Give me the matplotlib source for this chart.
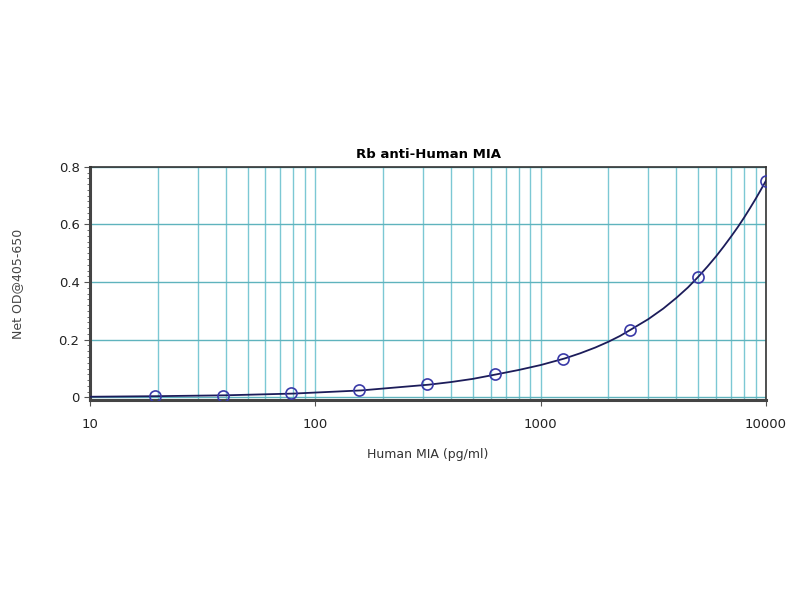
import numpy as np
import matplotlib.pyplot as plt
from matplotlib.ticker import LogLocator, FixedLocator, NullFormatter

# standard points (pg/ml) and net OD
conc = [19.5, 39, 78, 156, 312.5, 625, 1250, 2500, 5000, 10000]
od = [0.004, 0.005, 0.014, 0.024, 0.045, 0.080, 0.134, 0.234, 0.417, 0.752]

# fitted curve, points
curve_x = [10, 20, 40, 80, 160, 320, 400, 500, 640, 800, 1000, 1280, 1500,
           1750, 2000, 2250, 2500, 3000, 3500, 4000, 4500, 5000, 5500, 6000,
           6500, 7000, 7500, 8000, 8500, 9000, 9500, 10000]
curve_y = [0.002, 0.004, 0.007, 0.013, 0.024, 0.044, 0.053, 0.064, 0.080,
           0.095, 0.112, 0.135, 0.153, 0.173, 0.193, 0.213, 0.234, 0.271,
           0.308, 0.345, 0.381, 0.418, 0.454, 0.489, 0.524, 0.558, 0.591,
           0.624, 0.657, 0.689, 0.721, 0.752]

yticks = [0, 0.2, 0.4, 0.6, 0.8]
ytick_labels = ['0', '0.2', '0.4', '0.6', '0.8']

fig = plt.figure(figsize=(8, 6), dpi=100)
ax = fig.add_axes([0.1125, 0.333, 0.845, 0.389])

grid_col = '#7cc8d4'
ax.set_xscale('log')
ax.set_xlim(10, 10000)
ax.set_ylim(-0.01, 0.8)

ax.xaxis.set_major_locator(LogLocator(base=10))
ax.xaxis.set_minor_locator(LogLocator(base=10, subs=np.arange(2, 10)))
ax.xaxis.set_minor_formatter(NullFormatter())
ax.set_xticks([10, 100, 1000, 10000])
ax.set_xticklabels(['10', '100', '1000', '10000'])
ax.set_yticks(yticks)
ax.set_yticklabels(ytick_labels)
ax.yaxis.set_minor_locator(FixedLocator(np.arange(0, 0.81, 0.02)))

ax.grid(True, which='both', axis='x', color=grid_col, lw=1)
ax.grid(True, which='major', axis='y', color='#5fb3bd', lw=1)
ax.set_axisbelow(True)

ax.plot(curve_x, curve_y, color='#1c1c5a', lw=1.3, zorder=3)
ax.plot(conc, od, 'o', ms=8, mfc='none', mec='#3a3aa8', mew=1.2, zorder=4)

for side in ['top', 'right']:
    ax.spines[side].set_linewidth(1.2)
    ax.spines[side].set_color('#333333')
for side in ['left', 'bottom']:
    ax.spines[side].set_linewidth(2.2)
    ax.spines[side].set_color('#444444')

ax.tick_params(axis='both', which='major', labelsize=9.5, labelcolor='#222222',
               length=4, color='#555555')
ax.tick_params(axis='x', which='major', pad=9)
ax.tick_params(axis='x', which='minor', length=0)
ax.tick_params(axis='y', which='minor', length=2, color='#555555')

ax.set_title('Rb anti-Human MIA', fontsize=9.5, fontweight='bold', pad=6)
ax.set_xlabel('Human MIA (pg/ml)', fontsize=9, color='#333333', labelpad=12)
ax.set_ylabel('Net OD@405-650', fontsize=9, color='#444444', labelpad=25)

fig.savefig('out.png', dpi=100)
